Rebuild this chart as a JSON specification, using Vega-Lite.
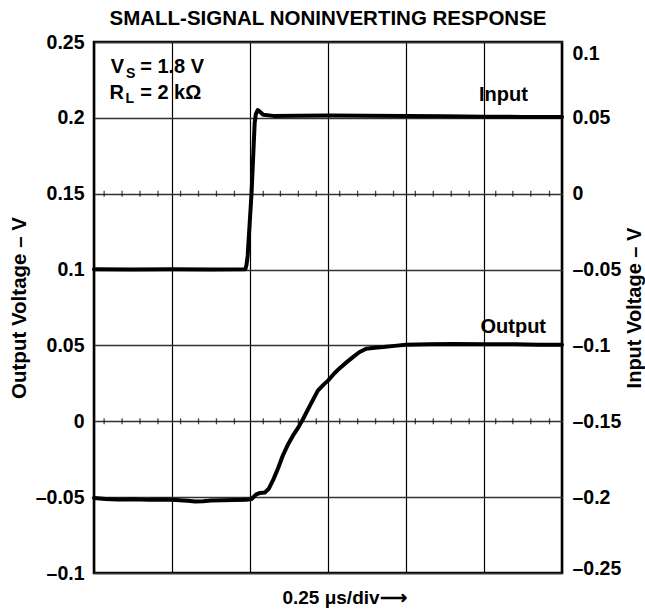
{
  "$schema": "https://vega.github.io/schema/vega-lite/v6.json",
  "autosize": {"type": "none"},
  "padding": {"left": 94, "top": 42, "right": 83, "bottom": 39},
  "width": 468,
  "height": 531,
  "background": "white",
  "config": {"view": {"stroke": "black", "strokeWidth": 2.6}, "font": "Liberation Sans"},
  "datasets": {
    "output": [
      {"t": 0, "v": -0.0505}, {"t": 0.15, "v": -0.0512}, {"t": 0.3, "v": -0.0515}, {"t": 0.5, "v": -0.0514}, {"t": 0.7, "v": -0.0518}, {"t": 0.9, "v": -0.0516}, {"t": 1.05, "v": -0.0519}, {"t": 1.2, "v": -0.0524}, {"t": 1.3, "v": -0.0529}, {"t": 1.4, "v": -0.0527}, {"t": 1.5, "v": -0.0522}, {"t": 1.65, "v": -0.052}, {"t": 1.8, "v": -0.0519}, {"t": 1.95, "v": -0.0518}, {"t": 2.02, "v": -0.0512}, {"t": 2.08, "v": -0.0482}, {"t": 2.13, "v": -0.0472}, {"t": 2.19, "v": -0.047}, {"t": 2.24, "v": -0.0445}, {"t": 2.3, "v": -0.0383}, {"t": 2.36, "v": -0.031}, {"t": 2.42, "v": -0.0227}, {"t": 2.48, "v": -0.016}, {"t": 2.55, "v": -0.0095}, {"t": 2.62, "v": -0.004}, {"t": 2.68, "v": 0.0015}, {"t": 2.78, "v": 0.0115}, {"t": 2.87, "v": 0.0202}, {"t": 2.95, "v": 0.0245}, {"t": 3.0, "v": 0.0268}, {"t": 3.08, "v": 0.0315}, {"t": 3.15, "v": 0.035}, {"t": 3.24, "v": 0.039}, {"t": 3.32, "v": 0.0423}, {"t": 3.4, "v": 0.0455}, {"t": 3.49, "v": 0.0478}, {"t": 3.6, "v": 0.0485}, {"t": 3.71, "v": 0.0489}, {"t": 3.85, "v": 0.0497}, {"t": 4.0, "v": 0.0505}, {"t": 4.3, "v": 0.0507}, {"t": 4.6, "v": 0.051}, {"t": 5.0, "v": 0.0508}, {"t": 5.4, "v": 0.0507}, {"t": 5.7, "v": 0.0505}, {"t": 6.0, "v": 0.0504}
    ],
    "input": [
      {"t": 0, "v": -0.0498}, {"t": 0.5, "v": -0.0499}, {"t": 1.0, "v": -0.0498}, {"t": 1.5, "v": -0.0499}, {"t": 1.94, "v": -0.0498}, {"t": 1.955, "v": -0.047}, {"t": 1.97, "v": -0.041}, {"t": 2.02, "v": 0.0005}, {"t": 2.06, "v": 0.0467}, {"t": 2.075, "v": 0.0525}, {"t": 2.1, "v": 0.0552}, {"t": 2.13, "v": 0.0538}, {"t": 2.17, "v": 0.052}, {"t": 2.3, "v": 0.0513}, {"t": 2.6, "v": 0.0514}, {"t": 3.0, "v": 0.0515}, {"t": 3.5, "v": 0.0514}, {"t": 4.0, "v": 0.0513}, {"t": 4.5, "v": 0.051}, {"t": 5.0, "v": 0.0508}, {"t": 5.5, "v": 0.0506}, {"t": 6.0, "v": 0.0505}
    ],
    "mticks": [
      {"t": 0.13}, {"t": 0.36}, {"t": 0.59}, {"t": 0.82},
      {"t": 1.11}, {"t": 1.34}, {"t": 1.57}, {"t": 1.8},
      {"t": 2.17}, {"t": 2.39}, {"t": 2.62}, {"t": 2.85},
      {"t": 3.15}, {"t": 3.38}, {"t": 3.61}, {"t": 3.84},
      {"t": 4.12}, {"t": 4.35}, {"t": 4.58}, {"t": 4.81},
      {"t": 5.15}, {"t": 5.37}, {"t": 5.6}, {"t": 5.84}
    ],
    "heading": [
      {"label": "SMALL-SIGNAL NONINVERTING RESPONSE", "t": 3.0, "v": 0.2612}
    ],
    "notes": [
      {"label": "V", "t": 0.214, "v": 0.2294},
      {"label": "= 1.8 V", "t": 0.592, "v": 0.2294},
      {"label": "R", "t": 0.2, "v": 0.2124},
      {"label": "= 2 kΩ", "t": 0.592, "v": 0.2124},
      {"label": "Input", "t": 4.936, "v": 0.2113},
      {"label": "Output", "t": 4.955, "v": 0.058}
    ],
    "subs": [
      {"label": "S", "t": 0.41, "v": 0.2261},
      {"label": "L", "t": 0.405, "v": 0.2096}
    ]
  },
  "layer": [
    {
      "layer": [
        {
          "data": {"name": "output"},
          "mark": {"type": "line", "color": "black", "strokeWidth": 4, "strokeJoin": "round", "strokeCap": "round"},
          "encoding": {
            "x": {"field": "t", "type": "quantitative", "scale": {"domain": [0, 6], "nice": false, "zero": false},
              "axis": {"orient": "bottom", "values": [0, 1, 2, 3, 4, 5, 6], "grid": true, "gridColor": "#000", "gridWidth": 1.2, "labels": false, "ticks": false, "domain": false,
                "title": "0.25 μs/div⟶", "titleFont": "Liberation Sans", "titleFontSize": 19, "titleFontWeight": "bold", "titleColor": "black", "titleX": 250, "titleY": 30, "titleBaseline": "alphabetic", "titleAlign": "center"}},
            "y": {"field": "v", "type": "quantitative", "scale": {"domain": [-0.1, 0.25], "nice": false, "zero": false},
              "axis": {"orient": "left", "values": [-0.1, -0.05, 0, 0.05, 0.1, 0.15, 0.2, 0.25], "grid": true, "gridColor": "#333", "gridWidth": 1.4, "ticks": false, "domain": false,
                "labelFont": "Liberation Sans", "labelFontSize": 19.5, "labelFontWeight": "bold", "labelColor": "black", "labelPadding": 10,
                "labelExpr": "datum.value < -0.0001 ? '–' + format(-datum.value, '~g') : format(abs(datum.value) < 0.0001 ? 0 : datum.value, '~g')",
                "title": "Output Voltage – V", "titleFont": "Liberation Sans", "titleFontSize": 20.5, "titleFontWeight": "bold", "titleColor": "black", "titleAngle": 270, "titleX": -69, "titleY": 265.5, "titleBaseline": "alphabetic", "titleAlign": "center"}}
          }
        },
        {
          "data": {"name": "mticks"},
          "mark": {"type": "tick", "orient": "vertical", "color": "black", "size": 6, "thickness": 1.3},
          "encoding": {"x": {"field": "t", "type": "quantitative"}, "y": {"datum": 0.15}}
        },
        {
          "data": {"name": "mticks"},
          "mark": {"type": "tick", "orient": "vertical", "color": "black", "size": 6, "thickness": 1.3},
          "encoding": {"x": {"field": "t", "type": "quantitative"}, "y": {"datum": 0}}
        },
        {
          "data": {"name": "heading"},
          "mark": {"type": "text", "align": "center", "baseline": "alphabetic", "font": "Liberation Sans", "fontSize": 20.5, "fontWeight": "bold", "color": "black", "clip": false},
          "encoding": {"x": {"field": "t", "type": "quantitative"}, "y": {"field": "v", "type": "quantitative"}, "text": {"field": "label"}}
        },
        {
          "data": {"name": "notes"},
          "mark": {"type": "text", "align": "left", "baseline": "alphabetic", "font": "Liberation Sans", "fontSize": 20, "fontWeight": "bold", "color": "black"},
          "encoding": {"x": {"field": "t", "type": "quantitative"}, "y": {"field": "v", "type": "quantitative"}, "text": {"field": "label"}}
        },
        {
          "data": {"name": "subs"},
          "mark": {"type": "text", "align": "left", "baseline": "alphabetic", "font": "Liberation Sans", "fontSize": 14, "fontWeight": "bold", "color": "black"},
          "encoding": {"x": {"field": "t", "type": "quantitative"}, "y": {"field": "v", "type": "quantitative"}, "text": {"field": "label"}}
        }
      ]
    },
    {
      "data": {"name": "input"},
      "mark": {"type": "line", "color": "black", "strokeWidth": 4, "strokeJoin": "round", "strokeCap": "round"},
      "encoding": {
        "x": {"field": "t", "type": "quantitative"},
        "y": {"field": "v", "type": "quantitative", "scale": {"domain": [-0.25, 0.1], "nice": false, "zero": false},
          "axis": {"orient": "right", "values": [-0.25, -0.2, -0.15, -0.1, -0.05, 0, 0.05, 0.1], "grid": false, "ticks": false, "domain": false,
            "labelFont": "Liberation Sans", "labelFontSize": 19.5, "labelFontWeight": "bold", "labelColor": "black", "labelPadding": 10,
            "labelOffset": {"condition": [{"test": "datum.value > 0.09", "value": 11}, {"test": "datum.value < -0.24", "value": -5}], "value": 0},
            "labelExpr": "datum.value < -0.0001 ? '–' + format(-datum.value, '~g') : format(abs(datum.value) < 0.0001 ? 0 : datum.value, '~g')",
            "title": "Input Voltage – V", "titleFont": "Liberation Sans", "titleFontSize": 20, "titleFontWeight": "bold", "titleColor": "black", "titleAngle": 270, "titleX": 78, "titleY": 265.5, "titleBaseline": "alphabetic", "titleAlign": "center"}}
      }
    }
  ],
  "resolve": {"scale": {"y": "independent"}, "axis": {"y": "independent"}}
}
